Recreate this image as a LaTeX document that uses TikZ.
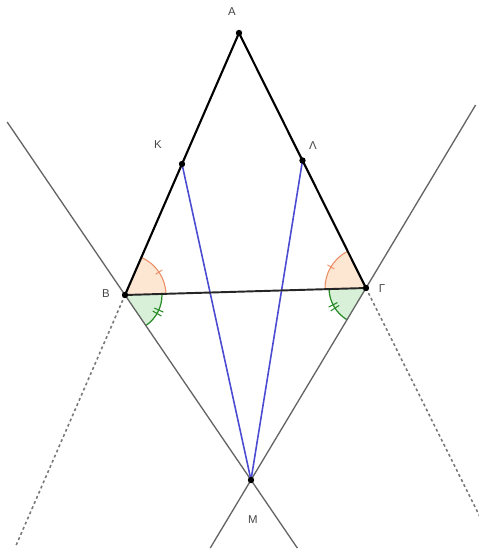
\documentclass[tikz,border=0pt]{standalone}
\usepackage{fontspec}
\setmainfont{Liberation Sans}
\usepackage{tikz}
\usetikzlibrary{calc, angles, quotes}
\definecolor{linegray}{RGB}{100, 100, 100}
\definecolor{dashgray}{RGB}{120, 120, 120}
\definecolor{segblue}{RGB}{75, 75, 210}
\definecolor{arcorange}{RGB}{235, 140, 100}
\definecolor{fillorange}{RGB}{253, 230, 210}
\definecolor{arcgreen}{RGB}{40, 140, 40}
\definecolor{fillgreen}{RGB}{215, 240, 215}
\definecolor{labelgray}{RGB}{70, 70, 70}
\tikzstyle{side} = [draw=black, line width=1.2pt]
\tikzstyle{base} = [draw=black!85, line width=1.1pt]
\tikzstyle{lineg} = [draw=linegray, line width=0.75pt]
\tikzstyle{dashg} = [draw=dashgray, line width=0.9pt, dash pattern=on 1.6pt off 1.6pt]
\tikzstyle{segb} = [draw=segblue, line width=0.9pt]
\tikzstyle{ango} = [draw=arcorange, fill=fillorange, line width=0.6pt, angle radius=0.82cm]
\tikzstyle{angg} = [draw=arcgreen, fill=fillgreen, line width=0.7pt, angle radius=0.74cm]
\tikzstyle{lbl} = [text=labelgray, inner sep=0pt, font=\fontsize{6.5}{7}\selectfont]

\begin{document}
\begin{tikzpicture}[x=0.02cm, y=0.02cm]
    \useasboundingbox (0,0) rectangle (479,-552);

    % Points
    \coordinate (A) at (239,-33);
    \coordinate (B) at (125,-295);
    \coordinate (G) at (366,-288);
    \coordinate (M) at (251,-480);
    \coordinate (K) at ($(A)!0.5!(B)$);
    \coordinate (L) at ($(A)!0.5!(G)$);

    % Free ends of the lines
    \coordinate (bm1) at ($(B)!-0.935!(M)$);
    \coordinate (bm2) at ($(B)!1.368!(M)$);
    \coordinate (gm1) at ($(G)!-0.953!(M)$);
    \coordinate (gm2) at ($(G)!1.354!(M)$);
    \coordinate (ab2) at ($(A)!1.962!(B)$);
    \coordinate (ag2) at ($(A)!1.9!(G)$);

    % Angles
    \pic[ango] {angle = G--B--A};
    \pic[angg] {angle = M--B--G};
    \pic[ango] {angle = A--G--B};
    \pic[angg] {angle = B--G--M};

    % Tick marks
    \draw[arcorange, line width=0.5pt] ($(B)+(34:0.74cm)$) -- ($(B)+(34:0.9cm)$);
    \draw[arcorange, line width=0.5pt] ($(G)+(149:0.74cm)$) -- ($(G)+(149:0.9cm)$);
    \foreach \a in {-30,-24} {
        \draw[arcgreen, line width=0.6pt] ($(B)+(\a:0.64cm)$) -- ($(B)+(\a:0.84cm)$);
    }
    \foreach \a in {207,213} {
        \draw[arcgreen, line width=0.6pt] ($(G)+(\a:0.64cm)$) -- ($(G)+(\a:0.84cm)$);
    }

    % Lines
    \draw[lineg] (bm1) -- (bm2);
    \draw[lineg] (gm1) -- (gm2);
    \draw[dashg] (B) -- (ab2);
    \draw[dashg] (G) -- (ag2);

    % Segments
    \draw[segb] (K) -- (M);
    \draw[segb] (L) -- (M);
    \draw[base] (B) -- (G);
    \draw[side] (B) -- (A) -- (G);

    % Dots
    \foreach \p in {A,B,G,K,L,M} {
        \fill[black] (\p) circle (3.2);
    }

    % Labels
    \node[lbl] (lA) at (232,-12) {Α};
    \node[lbl] (lK) at (158,-145) {Κ};
    \node[lbl] (lL) at (313,-146) {Λ};
    \node[lbl] (lB) at (106,-294) {Β};
    \node[lbl] (lG) at (382,-289) {Γ};
    \node[lbl] (lM) at (253,-520) {Μ};
\end{tikzpicture}
\end{document}
